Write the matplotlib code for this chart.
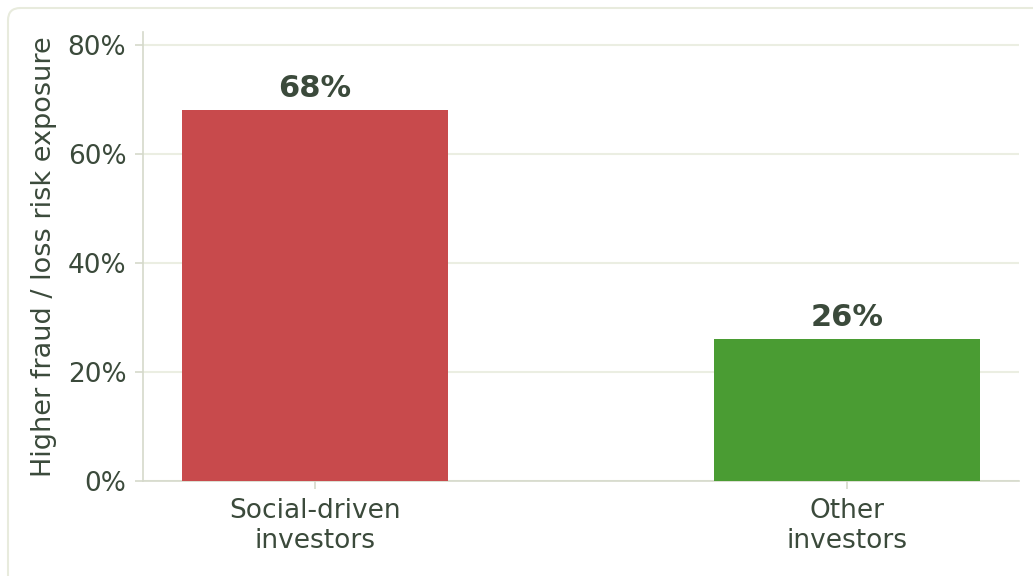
import matplotlib.pyplot as plt
from matplotlib.patches import FancyBboxPatch
from matplotlib.ticker import PercentFormatter

# ----------------------------
# Data
# ----------------------------
categories = ["Social-driven\ninvestors", "Other\ninvestors"]
values = [68, 26]
bar_colors = ["#C84A4C", "#4A9C33"]

text_color = "#3B4A3B"
spine_color = "#D5D9CB"
grid_color = "#EBEEE2"

# ----------------------------
# Plot
# ----------------------------
fig = plt.figure(figsize=(10.33, 5.76), dpi=100)
ax = fig.add_axes([143 / 1033, 1 - 481 / 576, (1019 - 143) / 1033, (481 - 32) / 576])

# rounded card border (cropped at right/bottom)
card = FancyBboxPatch((8 / 1033, -0.2), 1.2, 1.2 - 8 / 576,
                      boxstyle="round,pad=0,rounding_size=0.012",
                      mutation_aspect=1033 / 576,
                      transform=fig.transFigure, facecolor="none",
                      edgecolor="#E8EBDD", linewidth=1.5, zorder=0)
fig.patches.append(card)

x = range(len(categories))
ax.bar(x, values, width=0.5, color=bar_colors, zorder=3)

for xi, v in zip(x, values):
    ax.text(xi, v + 1.4, f"{v}%", ha="center", va="bottom",
            fontsize=22, fontweight="bold", color=text_color)

ax.set_xlim(-0.323, 1.323)
ax.set_ylim(0, 82.4)
ax.set_yticks([0, 20, 40, 60, 80])
ax.yaxis.set_major_formatter(PercentFormatter(decimals=0))
ax.set_xticks(list(x))
ax.set_xticklabels(categories)

ax.grid(axis="y", color=grid_color, linewidth=1.5, zorder=0)
ax.set_axisbelow(True)

for side in ["top", "right"]:
    ax.spines[side].set_visible(False)
for side in ["left", "bottom"]:
    ax.spines[side].set_color(spine_color)
    ax.spines[side].set_linewidth(1.2)

ax.tick_params(axis="both", colors=spine_color, labelcolor=text_color,
               labelsize=19, length=6, width=1.2, pad=6)
ax.set_ylabel("Higher fraud / loss risk exposure", fontsize=19.5,
              color=text_color, labelpad=8)

fig.savefig("out.png", dpi=100)
